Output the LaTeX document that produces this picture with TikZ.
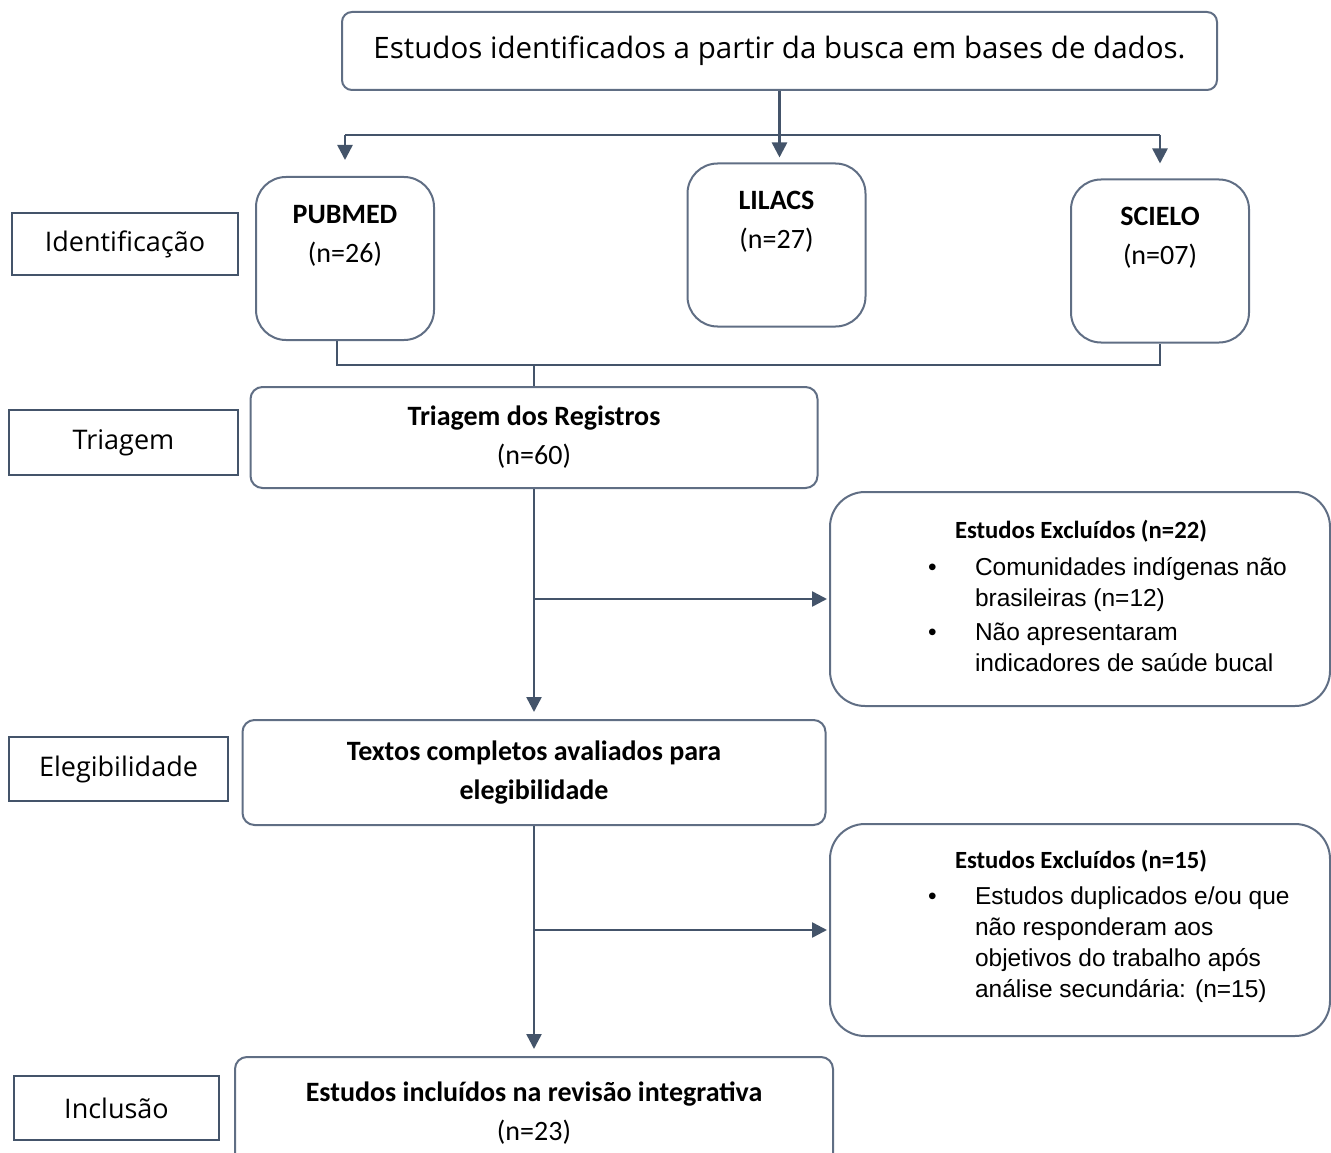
\documentclass[tikz,border=0pt]{standalone}
\usepackage{fontspec}
\usepackage{xcolor}
\usepackage{tikz}
\usetikzlibrary{positioning,arrows.meta}
\setmainfont{Carlito}
\newfontfamily\segoe{Open Sans}
\newfontfamily\arial{Liberation Sans}
\definecolor{fluxo}{RGB}{68,84,106}
\definecolor{borda}{RGB}{96,110,132}
\newcommand{\dbnome}[2]{\parbox[c][163pt][t]{178pt}{\centering\rule{0pt}{46pt}\textbf{#1}\\#2}}
\newcommand{\bitem}[1]{\par\hangindent=145pt\hspace*{98pt}\makebox[47pt][l]{\textbullet}#1\par}

\begin{document}
\begin{tikzpicture}[x=1pt, y=-1pt, node distance=230pt,
    etapa/.style={draw=fluxo, line width=1.8pt, inner sep=0pt, font=\segoe\fontsize{27}{32}\selectfont},
    busca/.style={draw=borda, line width=2pt, rounded corners=10pt, inner sep=0pt, minimum width=875pt, minimum height=78pt, font=\segoe\fontsize{29.5}{34}\selectfont},
    base/.style={draw=borda, line width=2pt, rounded corners=30pt, inner sep=0pt, font=\fontsize{28}{39}\selectfont},
    caixa/.style={draw=borda, line width=2pt, rounded corners=12pt, inner sep=0pt, align=center, font=\fontsize{28}{39}\selectfont},
    exclui/.style={draw=borda, line width=2pt, rounded corners=35pt, inner sep=0pt},
    fio/.style={draw=fluxo, line width=2.5pt},
    seta/.style={fio, -{Triangle[width=15pt,length=15pt]}}]
    \useasboundingbox (0,0) rectangle (1331,1153);
    \clip (0,0) rectangle (1331,1153);

    % busca e bases
    \node[busca] (B) at (779.5,51) {Estudos identificados a partir da busca em bases de dados.};
    \node[base] (P) at (345,258.5) {\dbnome{PUBMED}{(n=26)}};
    \node[base] (L) at (776.5,245) {\dbnome{LILACS}{(n=27)}};
    \node[base] (C) at (1160,261) {\dbnome{SCIELO}{(n=07)}};

    % fluxo principal
    \node[caixa] (T) [minimum width=567pt, minimum height=101pt] at (534,437.5) {\textbf{Triagem dos Registros}\\(n=60)};
    \node[caixa] (E) [minimum width=583pt, minimum height=105pt, below=230pt of T] {\textbf{Textos completos avaliados para}\\\textbf{elegibilidade}};
    \node[caixa] (I) [minimum width=598pt, minimum height=112pt, below=230pt of E] {\textbf{Estudos incluídos na revisão integrativa}\\(n=23)};

    % excluidos
    \node[exclui] (X1) at (1080,599) {\parbox[c][214pt][t]{500pt}{
        \rule{0pt}{46pt}\hspace*{125pt}{\fontsize{24.7}{28}\selectfont\bfseries Estudos Excluídos (n=22)}\par
        \vspace{6pt}\arial\fontsize{24.5}{31}\selectfont
        \bitem{Comunidades indígenas não\newline brasileiras (n=12)}\vspace{3pt}
        \bitem{Não apresentaram\newline indicadores de saúde bucal}}};
    \node[exclui] (X2) at (1080,930) {\parbox[c][212pt][t]{500pt}{
        \rule{0pt}{44pt}\hspace*{125pt}{\fontsize{24.7}{28}\selectfont\bfseries Estudos Excluídos (n=15)}\par
        \vspace{5pt}\arial\fontsize{24.5}{31}\selectfont
        \bitem{Estudos duplicados e/ou que\newline não responderam aos\newline objetivos do trabalho após\newline análise secundária: (n=15)}}};

    % etapas
    \node[etapa] (Id) [minimum width=226pt, minimum height=62pt] at (125,244) {Identificação};
    \node[etapa] (Tr) [minimum width=229pt, minimum height=65pt] at (123.5,442.5) {Triagem};
    \node[etapa] (El) [minimum width=219pt, minimum height=64pt] at (118.5,769) {Elegibilidade};
    \node[etapa] (In) [minimum width=205pt, minimum height=64pt] at (116.5,1108) {Inclusão};

    \coordinate (div) at (780,135);
    \coordinate (jun) at (534,365);

    \draw[seta, shorten >=5pt] (B.south) -- (B.south |- L.north);
    \draw[fio] (P.north |- div) -- (C.north |- div);
    \draw[seta, shorten >=16pt] (P.north |- div) -- (P.north);
    \draw[seta, shorten >=15pt] (C.north |- div) -- (C.north);
    \draw[fio] ([xshift=-8pt]P.south) |- (C.south |- jun) -- (C.south);
    \draw[fio] (T.north |- jun) -- (T.north);

    \path
    (T) edge[seta, shorten >=7pt] (E)
    (E) edge[seta, shorten >=7pt] (I);
    \draw[seta, shorten >=2pt] (T.south |- X1.west) -- (X1.west);
    \draw[seta, shorten >=2pt] (E.south |- X2.west) -- (X2.west);
\end{tikzpicture}
\end{document}
